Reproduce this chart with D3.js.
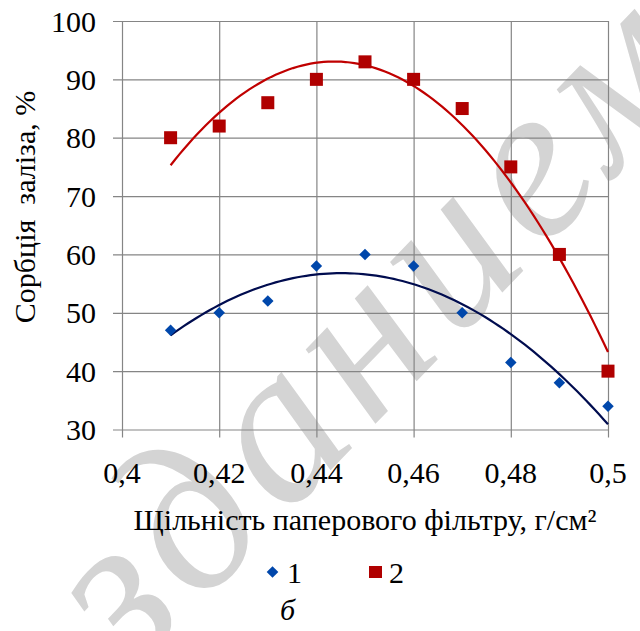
<!DOCTYPE html>
<html>
<head>
<meta charset="utf-8">
<script src="https://cdn.jsdelivr.net/npm/d3@7"></script>
<style>
  html, body { margin: 0; padding: 0; background: #fff; }
  svg { display: block; }
</style>
</head>
<body>
<svg id="chart" width="640" height="631"></svg>
<script>
// ---- data ----
const density = [0.41, 0.42, 0.43, 0.44, 0.45, 0.46, 0.47, 0.48, 0.49, 0.50];
const series1 = [47, 50, 52, 58, 60, 58, 50, 41.5, 38, 34];
const series2 = [80, 82, 86, 90, 93, 90, 85, 75, 60, 40];
const seriesNames = ["1", "2"];
const xTicks = [0.40, 0.42, 0.44, 0.46, 0.48, 0.50];
const xTickLabels = ["0,4", "0,42", "0,44", "0,46", "0,48", "0,5"];
const yTicks = [30, 40, 50, 60, 70, 80, 90, 100];
const xTitle = "Щільність паперового фільтру, г/см²";
const yTitle = "Сорбція  заліза, %";
const caption = "б";
const watermark = "зданием";

(function () {
const FONT = "Liberation Serif";
const svg = d3.select("#chart");
const W = 640, H = 631;
const pLeft = 122, pRight = 608, pTop = 21, pBottom = 429.5;
const x = d3.scaleLinear().domain([0.40, 0.50]).range([pLeft, pRight]);
const y = d3.scaleLinear().domain([30, 100]).range([pBottom, pTop]);
const fontSize = 30;
const red = "#b00000", redLine = "#c00000", blue = "#0047ab", navy = "#000c4f";

svg.append("rect").attr("width", W).attr("height", H).attr("fill", "#fff");

// watermark
svg.append("text")
  .attr("transform", "translate(132,676) rotate(-46)")
  .attr("font-family", FONT)
  .attr("font-size", 222)
  .attr("letter-spacing", 12)
  .attr("font-style", "italic")
  .attr("fill", "#d4d4d4")
  .text(watermark);

// gridlines via axes
const gx = svg.append("g").attr("transform", `translate(0,${pBottom})`)
  .call(d3.axisBottom(x).tickValues(xTicks).tickSize(-(pBottom - pTop)).tickSizeOuter(0).tickFormat(""));
gx.select(".domain").remove();
gx.selectAll(".tick line").attr("stroke", "#858585").attr("stroke-width", 1.2)
  .attr("y1", 8);

const gy = svg.append("g").attr("transform", `translate(${pLeft},0)`)
  .call(d3.axisLeft(y).tickValues(yTicks).tickSize(-(pRight - pLeft)).tickSizeOuter(0).tickFormat(""));
gy.select(".domain").remove();
gy.selectAll(".tick line").attr("stroke", "#858585").attr("stroke-width", 1.2)
  .attr("x1", -9);

// tick labels
svg.append("g").selectAll("text").data(xTicks).join("text")
  .attr("x", d => x(d)).attr("y", 483)
  .attr("text-anchor", "middle").attr("font-family", FONT).attr("font-size", fontSize).attr("fill", "#000")
  .text((d, i) => xTickLabels[i]);
svg.append("g").selectAll("text").data(yTicks).join("text")
  .attr("x", 96).attr("y", d => y(d) + 10.5)
  .attr("text-anchor", "end").attr("font-family", FONT).attr("font-size", fontSize).attr("fill", "#000")
  .text(d => d);

// axis titles
svg.append("text").attr("x", 365).attr("y", 530).attr("text-anchor", "middle")
  .attr("font-family", FONT).attr("font-size", fontSize).attr("fill", "#000").text(xTitle);
svg.append("text").attr("transform", "translate(35,207) rotate(-90)")
  .attr("text-anchor", "middle").attr("font-family", FONT).attr("font-size", fontSize).attr("fill", "#000")
  .style("white-space", "pre").text(yTitle);

// quadratic least-squares trendline (as the spreadsheet's polynomial trendline)
function quadFit(xs, ys) {
  const n = xs.length, mx = d3.mean(xs);
  const t = xs.map(v => v - mx);
  let S2 = 0, S3 = 0, S4 = 0, Sy = 0, Sty = 0, St2y = 0;
  t.forEach((ti, i) => { S2 += ti*ti; S3 += ti*ti*ti; S4 += ti**4; Sy += ys[i]; Sty += ti*ys[i]; St2y += ti*ti*ys[i]; });
  const A = [[n, 0, S2], [0, S2, S3], [S2, S3, S4]], B = [Sy, Sty, St2y];
  for (let i = 0; i < 3; i++) {
    for (let k = i + 1; k < 3; k++) {
      const f = A[k][i] / A[i][i];
      for (let j = i; j < 3; j++) A[k][j] -= f * A[i][j];
      B[k] -= f * B[i];
    }
  }
  const c = B[2] / A[2][2];
  const b = (B[1] - A[1][2]*c) / A[1][1];
  const a = (B[0] - A[0][1]*b - A[0][2]*c) / A[0][0];
  return v => a + b*(v - mx) + c*(v - mx)**2;
}
const f1 = quadFit(density, series1), f2 = quadFit(density, series2);
const xs = d3.range(0, 101).map(i => density[0] + (density[density.length-1] - density[0]) * i / 100);
const line = f => d3.line().x(v => x(v)).y(v => y(f(v)))(xs);

svg.append("path").attr("d", line(f2)).attr("fill", "none").attr("stroke", redLine).attr("stroke-width", 2.2);
svg.append("path").attr("d", line(f1)).attr("fill", "none").attr("stroke", navy).attr("stroke-width", 2.2);

// markers
svg.append("g").selectAll("path").data(density).join("path")
  .attr("transform", (d, i) => `translate(${x(d)},${y(series1[i])}) rotate(45)`)
  .attr("d", d3.symbol().type(d3.symbolSquare).size(66)).attr("fill", blue);
svg.append("g").selectAll("rect").data(density).join("rect")
  .attr("x", d => x(d) - 6.5).attr("y", (d, i) => y(series2[i]) - 6.5)
  .attr("width", 13).attr("height", 13).attr("fill", red);

// legend
const lg = svg.append("g");
lg.append("path").attr("transform", "translate(272.5,572) rotate(45)")
  .attr("d", d3.symbol().type(d3.symbolSquare).size(68)).attr("fill", blue);
lg.append("text").attr("x", 287).attr("y", 583).attr("font-family", FONT).attr("font-size", fontSize).text(seriesNames[0]);
lg.append("rect").attr("x", 369).attr("y", 566).attr("width", 13).attr("height", 12).attr("fill", red);
lg.append("text").attr("x", 389).attr("y", 583).attr("font-family", FONT).attr("font-size", fontSize).text(seriesNames[1]);

// caption
svg.append("text").attr("x", 280).attr("y", 620).attr("font-family", FONT).attr("font-size", fontSize)
  .attr("font-style", "italic").text(caption);
})();
</script>
</body>
</html>
